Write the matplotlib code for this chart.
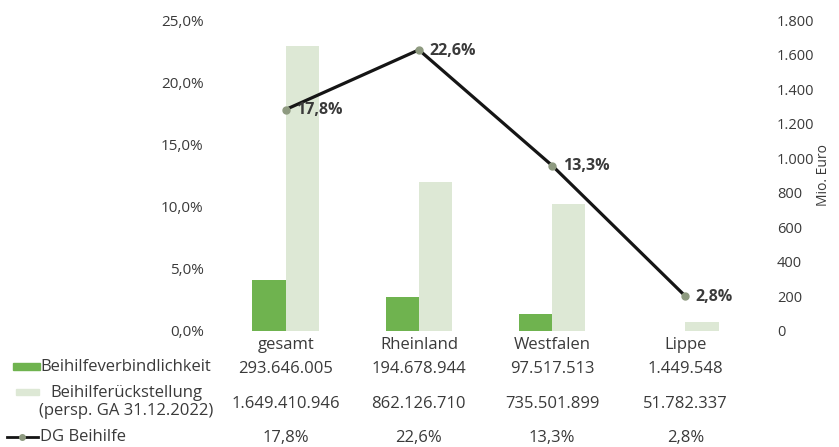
import matplotlib
matplotlib.use("Agg")
import matplotlib.pyplot as plt
import matplotlib.transforms as mtransforms
from matplotlib.patches import Rectangle
from matplotlib.lines import Line2D

categories = ["gesamt", "Rheinland", "Westfalen", "Lippe"]
verbindlichkeit = [293.646005, 194.678944, 97.517513, 1.449548]      # Mio. Euro
rueckstellung = [1649.410946, 862.126710, 735.501899, 51.782337]     # Mio. Euro
dg_beihilfe = [17.8, 22.6, 13.3, 2.8]                                 # %
row_verb = ["293.646.005", "194.678.944", "97.517.513", "1.449.548"]
row_rueck = ["1.649.410.946", "862.126.710", "735.501.899", "51.782.337"]
row_dg = ["17,8%", "22,6%", "13,3%", "2,8%"]

FONT = ["Open Sans", "DejaVu Sans"]
plt.rcParams["font.family"] = FONT

DARK = "#6fb34f"
LIGHT = "#dde8d5"
TXT = "#3a3a3a"

fig = plt.figure(figsize=(8.39, 4.47), dpi=100)
W, H = 839, 447
ax = fig.add_axes([219 / W, 1 - 331 / H, (752 - 219) / W, (331 - 20) / H])
ax2 = ax.twinx()

x = list(range(len(categories)))
bw = 0.25
ax.bar([i - bw / 2 for i in x], verbindlichkeit, width=bw, color=DARK, zorder=2)
ax.bar([i + bw / 2 for i in x], rueckstellung, width=bw, color=LIGHT, zorder=2)
ax.set_ylim(0, 1800)
ax.set_yticks(range(0, 1801, 200))
ax.set_yticklabels([f"{v:,}".replace(",", ".") for v in range(0, 1801, 200)])
ax.yaxis.tick_right()
ax.yaxis.set_label_position("right")
ax.set_ylabel("Mio. Euro", color=TXT, fontsize=10, labelpad=1)
ax.set_xlim(-0.5, 3.5)
ax.set_xticks(x)
ax.set_xticklabels(categories, fontsize=12, color=TXT)
ax.tick_params(axis="x", length=0, pad=4)
ax.tick_params(axis="y", length=0, pad=18, labelsize=10.5, labelcolor=TXT)
for s in ax.spines.values():
    s.set_visible(False)

ax2.plot(x, dg_beihilfe, color="#151515", lw=2.3, zorder=3)
ax2.plot(x, dg_beihilfe, "o", color="#8e9a80", ms=5, zorder=4)
for i, v in zip(x, dg_beihilfe):
    ax2.annotate(f"{v:.1f}%".replace(".", ","), (i, v), xytext=(7.5, -0.5),
                 textcoords="offset points", ha="left", va="center",
                 fontsize=11.5, fontweight="bold", color=TXT)
ax2.set_ylim(0, 25)
ax2.set_yticks(range(0, 26, 5))
ax2.set_yticklabels([f"{v},0%" for v in range(0, 26, 5)])
ax2.yaxis.tick_left()
ax2.tick_params(axis="y", length=0, pad=11, labelsize=11, labelcolor=TXT)
for s in ax2.spines.values():
    s.set_visible(False)

# data table
tr = mtransforms.blended_transform_factory(ax.transData, fig.transFigure)
TFONT = 12
for i in x:
    fig.text(i, 1 - 369 / H, row_verb[i], transform=tr, ha="center", va="center",
             fontsize=TFONT, color=TXT)
    fig.text(i, 1 - 404 / H, row_rueck[i], transform=tr, ha="center", va="center",
             fontsize=TFONT, color=TXT)
    fig.text(i, 1 - 438 / H, row_dg[i], transform=tr, ha="center", va="center",
             fontsize=TFONT, color=TXT)

fig.text(40 / W, 1 - 367 / H, "Beihilfeverbindlichkeit", ha="left", va="center",
         fontsize=TFONT, color=TXT)
fig.text(126 / W, 1 - 402 / H, "Beihilferückstellung\n(persp. GA 31.12.2022)",
         ha="center", va="center", fontsize=TFONT, color=TXT, linespacing=1.15)
fig.text(40 / W, 1 - 437 / H, "DG Beihilfe", ha="left", va="center",
         fontsize=TFONT, color=TXT)

fig.patches.append(Rectangle((13 / W, 1 - 370 / H), 27 / W, 7 / H, color=DARK,
                             transform=fig.transFigure, figure=fig))
fig.patches.append(Rectangle((16 / W, 1 - 395 / H), 23 / W, 6 / H, color=LIGHT,
                             transform=fig.transFigure, figure=fig))
fig.lines.append(Line2D([7 / W, 38 / W], [1 - 437 / H] * 2, color="#151515", lw=2,
                        transform=fig.transFigure, figure=fig))
fig.lines.append(Line2D([22 / W], [1 - 437 / H], marker="o", ms=4, color="#8e9a80",
                        transform=fig.transFigure, figure=fig))

fig.savefig("out.png", dpi=100)
